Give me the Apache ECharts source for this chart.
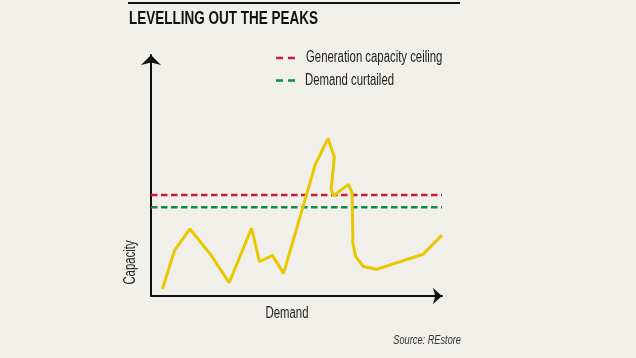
<!DOCTYPE html>
<html>
<head>
<meta charset="utf-8">
<style>
html,body{margin:0;padding:0;background:#f0efe9;}
#c{width:636px;height:358px;}
</style>
<script src="https://cdn.jsdelivr.net/npm/echarts@6/dist/echarts.min.js"></script>
</head>
<body>
<div id="c"></div>
<script>
// Demand (x) vs capacity (y), abstract units
const demandCapacity = [
  [4, 3], [8.2, 19.2], [13.6, 28.4], [20.9, 17.4], [27.3, 5.6],
  [35.1, 28.7], [37.9, 14.5], [42.4, 17.2], [46.3, 9.6], [57.3, 55.5],
  [61.8, 66.8], [64, 58.8], [62.9, 45.2], [63.7, 42.5], [69, 47.3],
  [70.2, 43.5], [70.5, 22.3], [71.5, 16.7], [74.1, 12.5], [78.7, 11.3],
  [95, 17.7], [101.6, 25.8]
];
const ceilingLevel = 42.8;
const curtailedLevel = 37.6;
const lineSpan = [0, 101.6];
const seriesNames = ['Generation capacity ceiling', 'Demand curtailed'];
const titleText = 'LEVELLING OUT THE PEAKS';
const xName = 'Demand';
const yName = 'Capacity';
const sourceText = 'Source: REstore';

const FONT = '"Liberation Sans", Arial, sans-serif';
const SX = 0.71;
const RED = '#c41e3a', GREEN = '#128a45', YELLOW = '#e8c900';
const chart = echarts.init(document.getElementById('c'), null, {renderer: 'canvas'});
const axisCommon = {
  type: 'value', min: 0,
  axisLabel: {show: false}, axisTick: {show: false}, splitLine: {show: false},
  axisLine: {show: true, symbol: ['none', 'arrow'], lineStyle: {color: '#111', width: 2}}
};
function txt(x, y, text, size, opts) {
  return Object.assign({
    type: 'text', x: x, y: y, scaleX: SX,
    style: Object.assign({text: text, fontFamily: FONT, fontSize: size, fill: '#222', align: 'left', verticalAlign: 'middle'}, (opts && opts.style) || {})
  }, (opts && opts.el) || {});
}
chart.setOption({
  backgroundColor: '#f0efe9',
  animation: false,
  grid: {left: 151, right: 194, top: 55, bottom: 62},
  xAxis: Object.assign({}, axisCommon, {
    max: 101.6,
    axisLine: Object.assign({}, axisCommon.axisLine, {symbolSize: [12, 9]})
  }),
  yAxis: Object.assign({}, axisCommon, {
    max: 102.1,
    axisLine: Object.assign({}, axisCommon.axisLine, {symbolSize: [15, 10]})
  }),
  graphic: [
    {type: 'line', shape: {x1: 128, y1: 3, x2: 460, y2: 3}, style: {stroke: '#111', lineWidth: 2}},
    txt(129, 18.5, titleText, 19, {style: {fontWeight: 'bold', fill: '#111'}}),
    {type: 'line', shape: {x1: 276, y1: 58, x2: 295, y2: 58}, style: {stroke: RED, lineWidth: 2.5, lineDash: [7, 5]}},
    {type: 'line', shape: {x1: 276, y1: 80.5, x2: 295, y2: 80.5}, style: {stroke: GREEN, lineWidth: 2.5, lineDash: [7, 5]}},
    txt(306, 58, seriesNames[0], 16),
    txt(305, 80.5, seriesNames[1], 16),
    txt(287, 314, xName, 16, {style: {align: 'center'}}),
    txt(130.7, 262.5, yName, 16, {style: {align: 'center'}, el: {rotation: Math.PI / 2, scaleX: SX}}),
    txt(461, 340, sourceText, 13, {style: {align: 'right', fontStyle: 'italic', fill: '#333'}})
  ],
  series: [
    {
      name: seriesNames[0], type: 'line', showSymbol: false, symbol: 'none',
      data: lineSpan.map(x => [x, ceilingLevel]),
      lineStyle: {color: RED, width: 2.5, type: [6.5, 3.5]}
    },
    {
      name: seriesNames[1], type: 'line', showSymbol: false, symbol: 'none',
      data: lineSpan.map(x => [x, curtailedLevel]),
      lineStyle: {color: GREEN, width: 2.5, type: [6.5, 3.5]}
    },
    {
      name: 'Capacity', type: 'line', showSymbol: false, symbol: 'none',
      data: demandCapacity,
      lineStyle: {color: YELLOW, width: 3}
    }
  ]
});
</script>
</body>
</html>
